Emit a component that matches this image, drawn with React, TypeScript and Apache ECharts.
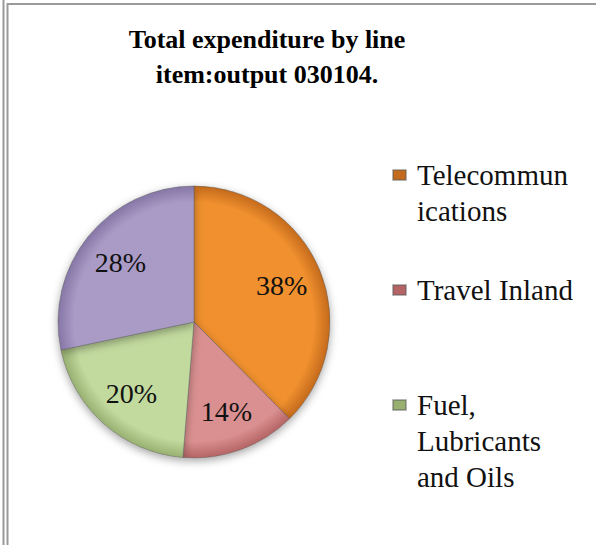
import React, { useEffect, useRef } from "react";
import * as echarts from "echarts";

const categories = ["Telecommunications", "Travel Inland", "Fuel, Lubricants and Oils", "Other"];
const shares = [37.6, 13.7, 20.4, 28.3];
const legendLines = ["Telecommun\nications", "Travel Inland", "Fuel,\nLubricants\nand Oils"];
const titleText = "Total expenditure by line\nitem:output 030104.";
const baseColors = ["#F0902F", "#DA9090", "#C2DA9E", "#AA9BC6"];
const rimColors = ["#C46A1C", "#B46464", "#98B070", "#8676A6"];

const CX = 194;
const CY = 322;
const R = 136;
const FONT = "Liberation Serif";

export default function App() {
  const ref = useRef<HTMLDivElement>(null);
  useEffect(() => {
    if (!ref.current) return;
    const chart = echarts.init(ref.current, null, { renderer: "svg" });
    const fill = (i: number) => ({
      type: "radial",
      x: CX,
      y: CY,
      r: R,
      global: true,
      colorStops: [
        { offset: 0, color: baseColors[i] },
        { offset: 0.88, color: baseColors[i] },
        { offset: 1, color: rimColors[i] },
      ],
    });
    const data = categories.map((name, i) => ({
      name,
      value: shares[i],
      itemStyle: { color: fill(i) },
    }));
    const lineH = 36;
    const legendTops = [121, 272, 315];
    const legends = legendLines.map((txt, i) => {
      const nLines = txt.split("\n").length;
      const shown = "\n".repeat(nLines - 1) + txt;
      return {
        data: [categories[i]],
        orient: "vertical",
        left: 392,
        top: legendTops[i],
        padding: 0,
        itemWidth: 13,
        itemHeight: 10,
        icon: "rect",
        selectedMode: false,
        formatter: () => shown,
        textStyle: {
          fontFamily: FONT,
          fontSize: 29,
          color: "#111",
          lineHeight: lineH,
          padding: [0, 0, 0, 6],
        },
      };
    });
    chart.setOption({
      animation: false,
      backgroundColor: "#ffffff",
      textStyle: { fontFamily: FONT },
      title: {
        text: titleText,
        left: 267,
        top: 22,
        padding: 0,
        textAlign: "center",
        textStyle: {
          fontFamily: FONT,
          fontWeight: "bold",
          fontSize: 26,
          lineHeight: 35,
          color: "#000",
        },
      },
      legend: legends,
      graphic: [
        { type: "line", shape: { x1: 3.5, y1: 0, x2: 3.5, y2: 545 }, style: { stroke: "#9a9a9a", lineWidth: 2 }, silent: true },
        { type: "line", shape: { x1: 7.5, y1: 3, x2: 7.5, y2: 545 }, style: { stroke: "#9a9a9a", lineWidth: 2 }, silent: true },
        { type: "line", shape: { x1: 7, y1: 4, x2: 596, y2: 4 }, style: { stroke: "#9a9a9a", lineWidth: 2 }, silent: true },
      ],
      series: [
        {
          type: "pie",
          center: [CX, CY],
          radius: [0, R],
          startAngle: 90,
          clockwise: true,
          silent: true,
          label: { show: false },
          labelLine: { show: false },
          itemStyle: {
            borderColor: "rgba(90,90,90,0.45)",
            borderWidth: 1,
            shadowBlur: 8,
            shadowColor: "rgba(0,0,0,0.35)",
            shadowOffsetY: 3,
          },
          data,
        },
        {
          type: "pie",
          center: [CX, CY],
          radius: [R * 0.35, R],
          startAngle: 90,
          clockwise: true,
          silent: true,
          itemStyle: { color: "rgba(0,0,0,0)" },
          label: {
            show: true,
            position: "inside",
            fontFamily: FONT,
            fontSize: 28,
            color: "#111",
            formatter: (p: any) => Math.round(p.percent) + "%",
          },
          labelLine: { show: false },
          data: categories.map((name, i) => ({ name: name + " ", value: shares[i] })),
        },
      ],
    });
    return () => chart.dispose();
  }, []);
  return (
    <div
      ref={ref}
      style={{ position: "fixed", left: 0, top: 0, width: 596, height: 545 }}
    />
  );
}
